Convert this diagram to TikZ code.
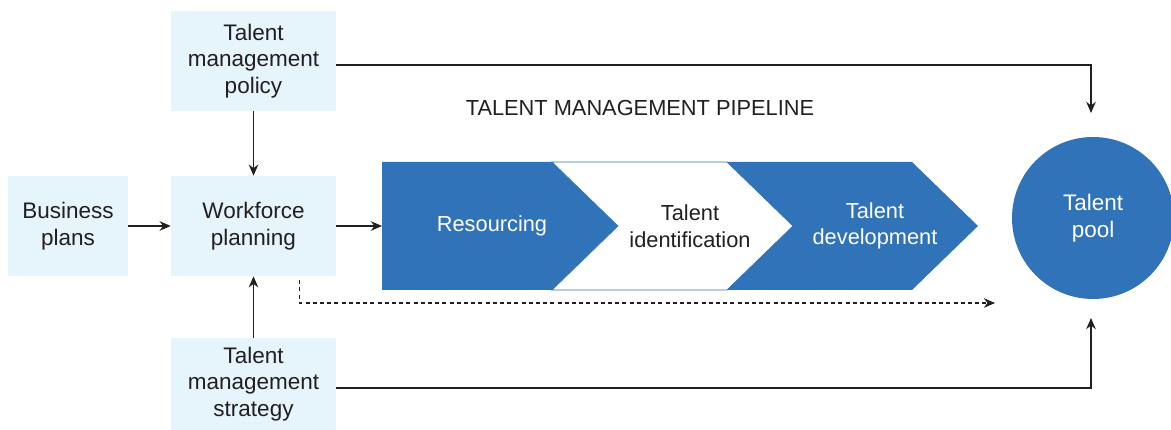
\documentclass[tikz,border=0pt]{standalone}
\usepackage{fontspec}
\setmainfont{Liberation Sans}
\usepackage{xcolor}
\usepackage{tikz}
\usetikzlibrary{positioning, shapes, arrows.meta, shapes.geometric}

\definecolor{boxfill}{HTML}{E6F4FB}
\definecolor{pipeblue}{HTML}{3173B9}
\definecolor{inkgrey}{HTML}{231F20}

\begin{document}
\begin{tikzpicture}[
    font=\fontsize{16}{19}\selectfont,
    text=inkgrey,
    inputbox/.style={rectangle, fill=boxfill, minimum width=4.125cm, minimum height=2.5cm, align=center, inner sep=0pt},
    stagetext/.style={align=center, font=\fontsize{15.5}{19}\selectfont},
    pool/.style={circle, fill=pipeblue, minimum size=4.05cm, align=center, text=white},
    flow/.style={draw=inkgrey, line width=0.8pt, -{Stealth[length=2.8mm, width=2.4mm]}},
    feedback/.style={flow, dash pattern=on 1mm off 0.8mm}
]
\useasboundingbox (0,0) rectangle (29.275,10.75);

% Input boxes
\node[inputbox] (policy) at (6.3375,9.225) {Talent\\management\\policy};
\node[inputbox, minimum width=3cm] (business) at (1.7,5.1) {Business\\plans};
\node[inputbox] (workforce) at (6.3375,5.1) {Workforce\\planning};
\node[inputbox, minimum height=2.3cm] (strategy) at (6.3375,1.15) {Talent\\management\\strategy};

% Pipeline chevrons
\fill[pipeblue] (9.55,6.7) -- (13.8,6.7) -- (15.45,5.1) -- (13.8,3.5) -- (9.55,3.5) -- cycle;
\filldraw[fill=white, draw=pipeblue, line width=0.5pt] (13.8,6.7) -- (18.175,6.7) -- (19.825,5.1) -- (18.175,3.5) -- (13.8,3.5) -- (15.45,5.1) -- cycle;
\fill[pipeblue] (18.175,6.7) -- (22.8,6.7) -- (24.45,5.1) -- (22.8,3.5) -- (18.175,3.5) -- (19.825,5.1) -- cycle;
\coordinate (pipein) at (9.55,5.1);

\node[stagetext, text=white] (resourcing) at (12.3,5.1) {Resourcing};
\node[stagetext] (identification) at (17.25,5.1) {Talent\\identification};
\node[stagetext, text=white] (development) at (21.875,5.1) {Talent\\development};

% Title
\node[font=\fontsize{15.5}{19}\selectfont] (title) at (16,8.05) {TALENT MANAGEMENT PIPELINE};

% Talent pool
\node[pool] (talentpool) at (27.325,5.3) {Talent\\pool};
\coordinate (pooltop) at (27.275,7.925);
\coordinate (poolbottom) at (27.275,2.8);
\coordinate (dashend) at (24.875,3.175);

% Edges
\draw[flow] (business) -- (workforce);
\draw[flow] (policy) -- (workforce);
\draw[flow] (strategy) -- (workforce);
\draw[flow] (workforce) -- (pipein);
\draw[flow] ([yshift=-0.1cm]policy.east) -| (pooltop);
\draw[flow] ([yshift=-0.1cm]strategy.east) -| (poolbottom);
\draw[feedback] ([xshift=1.15cm, yshift=-0.1cm]workforce.south) |- (dashend);

\end{tikzpicture}
\end{document}
